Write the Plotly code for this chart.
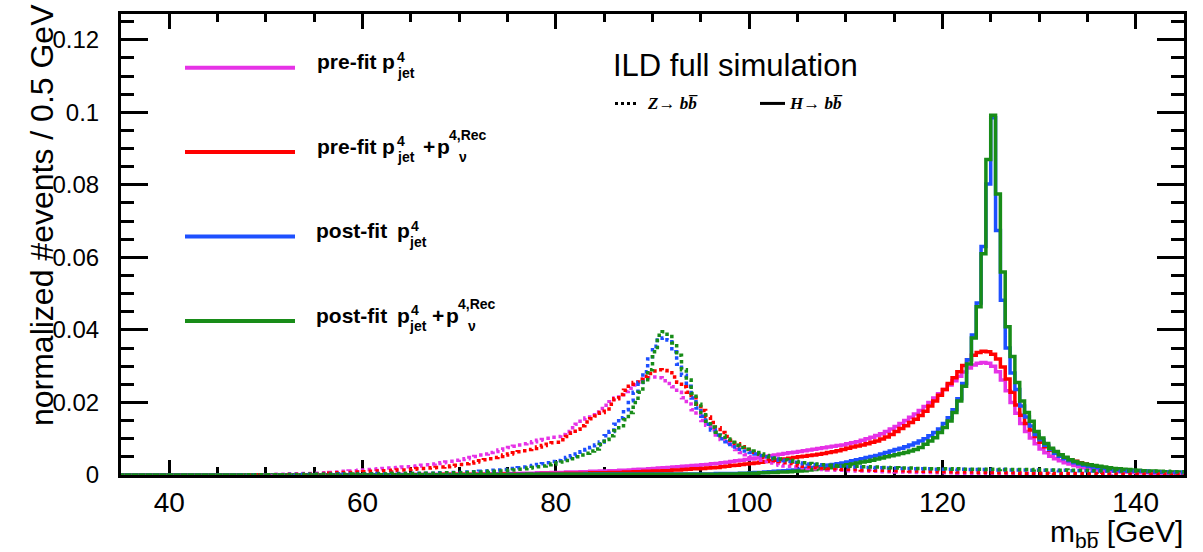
import plotly.graph_objects as go

# Histogram binning: 0.5 GeV bins from 35 to 145 GeV
BIN_LO, BIN_W, N_BINS = 35.0, 0.5, 220
EDGES = [BIN_LO + BIN_W * i for i in range(N_BINS + 1)]
SCALE = 1e-4  # stored contents are in units of 1e-4 (normalized #events / 0.5 GeV)

# ---- H -> bb (solid) ----
H_PRE = [
    0, 0, 0, 0, 0, 0, 0, 0, 0, 0,
    0, 0, 0, 0, 0, 0, 0, 0, 0, 0,
    0, 0, 0, 0, 0, 0, 0, 0, 0, 0,
    0, 0, 0, 0, 0, 0, 1, 0, 0, 1,
    0, 1, 1, 0, 1, 1, 1, 1, 1, 1,
    1, 1, 1, 1, 1, 1, 1, 2, 1, 1,
    2, 1, 2, 2, 2, 2, 2, 2, 2, 2,
    2, 2, 2, 3, 3, 3, 3, 3, 3, 4,
    4, 4, 4, 5, 5, 5, 6, 6, 6, 7,
    7, 7, 8, 8, 8, 9, 9, 10, 10, 11,
    11, 12, 12, 13, 13, 14, 15, 16, 16, 17,
    18, 19, 20, 21, 22, 23, 24, 25, 26, 27,
    28, 29, 31, 32, 34, 35, 37, 39, 41, 43,
    45, 47, 49, 51, 53, 55, 57, 59, 61, 63,
    65, 67, 69, 71, 73, 75, 77, 79, 81, 83,
    86, 89, 92, 96, 100, 104, 109, 114, 120, 127,
    134, 142, 150, 159, 168, 178, 189, 200, 212, 224,
    236, 248, 260, 272, 284, 295, 303, 308, 310, 308,
    300, 285, 262, 232, 200, 170, 142, 120, 102, 86,
    72, 61, 52, 45, 39, 34, 30, 26, 23, 20,
    18, 16, 14, 12, 11, 10, 9, 8, 8, 7,
    7, 6, 6, 5, 5, 5, 4, 4, 4, 4,
]
H_PRE_NU = [
    0, 0, 0, 0, 0, 0, 0, 0, 0, 0,
    0, 0, 0, 0, 0, 0, 0, 0, 0, 0,
    0, 0, 0, 0, 0, 0, 0, 0, 0, 0,
    0, 0, 0, 0, 0, 0, 0, 0, 0, 0,
    0, 0, 0, 0, 0, 1, 0, 0, 1, 0,
    1, 0, 1, 1, 1, 1, 1, 1, 1, 1,
    1, 1, 1, 1, 1, 1, 2, 1, 2, 2,
    2, 2, 2, 2, 2, 2, 2, 2, 2, 3,
    3, 3, 3, 3, 3, 3, 3, 4, 4, 4,
    4, 4, 5, 5, 5, 5, 5, 6, 6, 6,
    6, 7, 7, 7, 8, 8, 9, 9, 10, 10,
    11, 11, 12, 12, 14, 14, 15, 16, 17, 17,
    18, 19, 20, 21, 23, 24, 26, 27, 29, 30,
    32, 33, 35, 37, 39, 41, 43, 44, 46, 48,
    50, 52, 54, 55, 57, 59, 62, 64, 67, 70,
    74, 77, 80, 83, 86, 90, 94, 99, 105, 112,
    120, 128, 136, 145, 154, 164, 176, 190, 204, 220,
    236, 252, 268, 285, 302, 318, 330, 338, 341, 340,
    333, 320, 298, 265, 228, 193, 165, 142, 124, 106,
    90, 78, 68, 60, 53, 47, 42, 38, 34, 30,
    27, 24, 22, 20, 18, 16, 15, 13, 12, 11,
    10, 10, 9, 9, 8, 8, 7, 7, 6, 6,
]
H_POST = [
    0, 0, 0, 0, 0, 0, 0, 0, 0, 0,
    0, 0, 0, 0, 0, 0, 0, 0, 0, 0,
    0, 0, 0, 0, 0, 0, 0, 0, 0, 0,
    0, 0, 0, 0, 0, 0, 0, 0, 0, 0,
    0, 0, 0, 0, 0, 0, 0, 0, 0, 0,
    0, 0, 1, 0, 0, 1, 0, 1, 0, 1,
    1, 0, 1, 1, 1, 1, 1, 1, 1, 1,
    1, 1, 1, 1, 1, 1, 1, 2, 1, 1,
    2, 1, 2, 2, 2, 2, 2, 2, 2, 2,
    2, 2, 2, 2, 2, 2, 3, 2, 3, 3,
    3, 3, 3, 3, 3, 3, 3, 3, 3, 3,
    3, 3, 3, 3, 3, 3, 3, 3, 3, 3,
    3, 3, 3, 4, 4, 4, 4, 4, 5, 5,
    6, 7, 7, 8, 9, 10, 11, 12, 13, 14,
    16, 18, 19, 21, 23, 25, 27, 29, 31, 33,
    36, 39, 42, 45, 48, 51, 54, 58, 62, 66,
    70, 74, 78, 83, 88, 94, 100, 108, 117, 127,
    142, 158, 180, 210, 252, 318, 386, 474, 630, 802,
    985, 674, 482, 350, 281, 236, 190, 160, 135, 112,
    97, 82, 70, 60, 52, 45, 39, 34, 30, 27,
    24, 22, 20, 18, 17, 15, 14, 13, 12, 11,
    11, 10, 9, 9, 8, 8, 7, 7, 7, 6,
]
H_POST_NU = [
    0, 0, 0, 0, 0, 0, 0, 0, 0, 0,
    0, 0, 0, 0, 0, 0, 0, 0, 0, 0,
    0, 0, 0, 0, 0, 0, 0, 0, 0, 0,
    0, 0, 0, 0, 0, 0, 0, 0, 0, 0,
    0, 0, 0, 0, 0, 0, 0, 0, 0, 0,
    0, 0, 0, 1, 0, 0, 1, 0, 0, 1,
    0, 1, 1, 0, 1, 1, 1, 1, 1, 1,
    1, 1, 1, 1, 1, 1, 1, 1, 1, 1,
    1, 1, 1, 1, 2, 1, 2, 2, 2, 2,
    2, 2, 2, 2, 2, 2, 2, 2, 2, 2,
    2, 2, 2, 2, 2, 2, 2, 2, 2, 2,
    2, 2, 2, 2, 2, 2, 2, 2, 2, 2,
    2, 2, 2, 2, 3, 3, 3, 3, 4, 4,
    5, 5, 6, 6, 7, 7, 8, 8, 9, 10,
    11, 12, 14, 15, 17, 18, 20, 22, 24, 26,
    28, 30, 33, 36, 38, 41, 44, 47, 50, 53,
    56, 59, 62, 66, 70, 76, 85, 94, 103, 117,
    131, 149, 172, 204, 245, 306, 378, 464, 610, 870,
    992, 775, 560, 409, 327, 255, 204, 172, 148, 120,
    102, 87, 74, 65, 56, 49, 42, 37, 33, 30,
    28, 26, 24, 22, 20, 18, 17, 16, 15, 14,
    13, 12, 11, 11, 10, 9, 9, 8, 8, 7,
]

# ---- Z -> bb (dotted) ----
Z_PRE = [
    0, 0, 0, 0, 0, 0, 0, 0, 0, 0,
    0, 0, 0, 0, 0, 0, 0, 0, 0, 0,
    0, 0, 0, 0, 0, 0, 1, 1, 1, 1,
    1, 2, 2, 2, 3, 3, 3, 4, 4, 4,
    5, 5, 6, 7, 8, 9, 10, 11, 12, 13,
    14, 15, 16, 17, 18, 19, 20, 21, 22, 23,
    24, 25, 27, 28, 30, 32, 34, 36, 38, 41,
    43, 45, 48, 51, 55, 58, 62, 65, 69, 72,
    76, 79, 83, 86, 89, 92, 96, 98, 101, 104,
    106, 112, 120, 130, 140, 148, 157, 165, 174, 183,
    192, 202, 212, 221, 230, 239, 248, 256, 264, 268,
    270, 268, 260, 252, 243, 228, 213, 196, 180, 165,
    150, 137, 125, 110, 98, 88, 80, 70, 62, 56,
    50, 45, 41, 37, 33, 30, 27, 25, 24, 22,
    21, 20, 18, 17, 16, 15, 14, 14, 13, 13,
    12, 12, 11, 11, 11, 10, 10, 9, 9, 9,
    8, 8, 8, 8, 7, 7, 7, 7, 6, 6,
    6, 6, 6, 5, 5, 5, 5, 5, 5, 4,
    4, 4, 4, 4, 4, 4, 4, 4, 4, 3,
    3, 4, 3, 3, 3, 3, 3, 3, 3, 3,
    3, 3, 3, 3, 2, 3, 2, 2, 2, 2,
    2, 2, 2, 2, 2, 2, 2, 2, 2, 2,
]
Z_PRE_NU = [
    0, 0, 0, 0, 0, 0, 0, 0, 0, 0,
    0, 0, 0, 0, 0, 0, 0, 0, 0, 0,
    0, 0, 0, 0, 0, 0, 0, 1, 0, 1,
    1, 1, 1, 1, 2, 2, 2, 2, 3, 3,
    3, 4, 4, 5, 6, 6, 7, 7, 8, 8,
    9, 10, 10, 11, 12, 12, 13, 14, 14, 15,
    16, 17, 18, 19, 20, 21, 22, 23, 25, 27,
    29, 31, 33, 36, 39, 42, 45, 48, 51, 55,
    58, 61, 64, 67, 70, 73, 77, 81, 85, 89,
    90, 97, 106, 116, 126, 136, 146, 155, 163, 172,
    182, 195, 210, 222, 234, 245, 255, 264, 272, 280,
    287, 290, 288, 282, 270, 256, 243, 228, 213, 195,
    178, 160, 145, 130, 117, 106, 96, 86, 78, 70,
    63, 57, 52, 48, 44, 40, 37, 34, 32, 29,
    26, 24, 23, 21, 20, 19, 18, 17, 17, 16,
    16, 15, 15, 14, 14, 14, 13, 13, 13, 12,
    12, 12, 12, 11, 11, 11, 10, 10, 10, 9,
    9, 9, 9, 8, 8, 8, 8, 7, 7, 7,
    7, 6, 6, 6, 6, 6, 5, 5, 5, 5,
    5, 5, 5, 4, 4, 4, 4, 4, 4, 4,
    4, 4, 3, 4, 3, 3, 3, 3, 3, 3,
    3, 3, 3, 3, 3, 3, 2, 3, 2, 2,
]
Z_POST = [
    0, 0, 0, 0, 0, 0, 0, 0, 0, 0,
    0, 0, 0, 0, 0, 0, 0, 0, 0, 0,
    0, 0, 0, 0, 0, 1, 0, 1, 1, 1,
    1, 1, 1, 1, 1, 2, 1, 2, 2, 2,
    2, 2, 2, 2, 3, 2, 3, 3, 3, 3,
    3, 3, 3, 4, 3, 4, 4, 4, 4, 4,
    4, 5, 5, 5, 5, 6, 6, 6, 7, 7,
    7, 8, 9, 9, 10, 11, 12, 13, 14, 15,
    17, 18, 20, 22, 24, 26, 29, 31, 34, 37,
    40, 44, 48, 53, 58, 64, 70, 76, 83, 91,
    108, 120, 140, 158, 180, 205, 228, 255, 285, 320,
    355, 372, 378, 372, 340, 305, 275, 245, 212, 185,
    162, 140, 124, 110, 100, 92, 84, 77, 71, 66,
    62, 58, 54, 50, 47, 44, 41, 39, 37, 35,
    33, 31, 30, 29, 28, 27, 26, 25, 24, 24,
    23, 23, 22, 22, 21, 21, 20, 20, 19, 19,
    19, 18, 18, 18, 17, 17, 17, 17, 16, 16,
    16, 16, 16, 15, 16, 15, 15, 15, 15, 15,
    15, 14, 15, 14, 14, 14, 14, 14, 13, 14,
    13, 13, 13, 13, 12, 13, 12, 12, 12, 12,
    12, 11, 11, 11, 11, 11, 10, 10, 10, 10,
    10, 10, 10, 9, 9, 9, 9, 9, 8, 8,
]
Z_POST_NU = [
    0, 0, 0, 0, 0, 0, 0, 0, 0, 0,
    0, 0, 0, 0, 0, 0, 0, 0, 0, 0,
    0, 0, 0, 0, 0, 0, 1, 0, 1, 1,
    1, 1, 1, 1, 1, 1, 1, 1, 2, 1,
    2, 2, 2, 2, 2, 2, 2, 3, 2, 3,
    3, 3, 3, 3, 3, 3, 4, 3, 4, 4,
    4, 4, 4, 5, 5, 5, 5, 6, 6, 6,
    6, 7, 7, 8, 8, 9, 10, 10, 11, 12,
    13, 14, 16, 17, 19, 21, 23, 25, 28, 30,
    33, 36, 40, 45, 50, 55, 60, 66, 72, 84,
    98, 108, 122, 136, 152, 172, 200, 228, 256, 290,
    340, 385, 395, 388, 364, 330, 290, 262, 225, 195,
    172, 148, 132, 118, 108, 99, 90, 82, 76, 71,
    66, 62, 58, 54, 50, 47, 44, 42, 40, 38,
    36, 34, 32, 30, 29, 28, 27, 26, 25, 25,
    24, 24, 24, 23, 23, 22, 22, 21, 21, 20,
    20, 19, 19, 19, 18, 18, 18, 17, 17, 17,
    17, 17, 16, 17, 16, 16, 16, 16, 16, 15,
    16, 15, 16, 15, 15, 15, 15, 15, 14, 15,
    14, 14, 14, 14, 13, 14, 13, 13, 13, 13,
    13, 12, 12, 12, 12, 12, 11, 11, 11, 11,
    11, 11, 10, 10, 10, 10, 10, 9, 9, 9,
]

MAGENTA, RED, BLUE, GREEN = "#E632E6", "#FF0000", "#1E50FF", "#188C18"
SANS = "Liberation Sans, Arial, sans-serif"
SERIF = "Liberation Serif, Times New Roman, serif"

# Frame geometry in page pixels
PLOT_L, PLOT_R, PLOT_T, PLOT_B = 121, 1184, 11, 475
W, H = 1203, 552


def to_paper(xp, yp):
    return (xp - PLOT_L) / (PLOT_R - PLOT_L), (PLOT_B - yp) / (PLOT_B - PLOT_T)


def step_trace(vals, color, dash, width):
    ys = [v * SCALE for v in vals]
    return go.Scatter(
        x=EDGES, y=ys + [ys[-1]], mode="lines", line_shape="hv",
        line=dict(color=color, width=width, dash=dash),
        hoverinfo="skip", showlegend=False,
    )


fig = go.Figure()
for vals, col in [(H_PRE, MAGENTA), (H_PRE_NU, RED), (H_POST, BLUE), (H_POST_NU, GREEN)]:
    fig.add_trace(step_trace(vals, col, "solid", 3.5))
for vals, col in [(Z_PRE, MAGENTA), (Z_PRE_NU, RED), (Z_POST, BLUE), (Z_POST_NU, GREEN)]:
    fig.add_trace(step_trace(vals, col, "dot", 3.5))

annotations = []
shapes = []


def text(xp, yp, s, size, family=SANS, bold=False, italic=False, xanchor="left",
         yanchor="middle", angle=0):
    if italic:
        s = f"<i>{s}</i>"
    if bold:
        s = f"<b>{s}</b>"
    x, y = to_paper(xp, yp)
    annotations.append(dict(
        x=x, y=y, xref="paper", yref="paper", text=s, showarrow=False,
        xanchor=xanchor, yanchor=yanchor, textangle=angle,
        font=dict(family=family, size=size, color="black"),
    ))


def hline(x0, x1, yp, color, width, dash="solid"):
    a0, b0 = to_paper(x0, yp)
    a1, _ = to_paper(x1, yp)
    shapes.append(dict(type="line", xref="paper", yref="paper", x0=a0, x1=a1,
                       y0=b0, y1=b0, line=dict(color=color, width=width, dash=dash)))


# Legend block: colour, line y, label word, and x positions of the
# word / p / superscript 4 / subscript jet / "+" / p / "4,Rec" / nu pieces
LEG = [
    (MAGENTA, 65, "pre-fit", (315, 380, 395, 395, None, None, None, None)),
    (RED, 150, "pre-fit", (315, 380, 395, 395, 421, 435, 447, 457)),
    (BLUE, 235, "post-fit", (314, 395, 409, 407, None, None, None, None)),
    (GREEN, 320, "post-fit", (314, 395, 409, 407, 430, 444, 456, 466)),
]
for col, ly, word, (xw, xp1, x4, xjet, xplus, xp2, xrec, xnu) in LEG:
    hline(185, 295, ly, col, 4)
    base = ly - 6
    text(xw, base, word, 21, bold=True)
    text(xp1, base, "p", 21, bold=True)
    text(x4, base - 5, "4", 14, bold=True)
    text(xjet, base + 11, "jet", 14, bold=True)
    if xplus is not None:
        text(xplus, base, "+", 21, bold=True)
        text(xp2, base, "p", 21, bold=True)
        text(xrec, base - 11, "4,Rec", 14, bold=True)
        text(xnu, base + 11, "\u03bd", 14, bold=True)

# Title block
text(735, 63, "ILD full simulation", 31, xanchor="center")
hline(615, 638, 101, "black", 3, "dot")
text(645, 101, "Z\u2192 bb\u0305", 17, family=SERIF, bold=True, italic=True)
hline(760, 785, 101, "black", 3)
text(787, 101, "H\u2192 bb\u0305", 17, family=SERIF, bold=True, italic=True)

# Axis titles
text(1185, 534, "m<sub>bb\u0305</sub> [GeV]", 30, xanchor="right")
text(42, -1, "normalized #events / 0.5 GeV", 32, xanchor="center", yanchor="top", angle=-90)

fig.update_layout(
    width=W, height=H, autosize=False,
    margin=dict(l=PLOT_L, r=W - PLOT_R, t=PLOT_T, b=H - PLOT_B, pad=0),
    paper_bgcolor="white", plot_bgcolor="white",
    annotations=annotations, shapes=shapes,
    xaxis=dict(
        range=[35, 145], dtick=20, tick0=0, showgrid=False, zeroline=False,
        showline=True, linecolor="black", linewidth=3, mirror="allticks",
        ticks="inside", ticklen=15, tickwidth=3, tickcolor="black",
        minor=dict(dtick=5, ticks="inside", ticklen=8, tickwidth=3, tickcolor="black"),
        tickfont=dict(family=SANS, size=28, color="black"),
        layer="below traces",
    ),
    yaxis=dict(
        range=[0, 0.1271], dtick=0.02, tick0=0, showgrid=False, zeroline=False,
        showline=True, linecolor="black", linewidth=3, mirror="allticks",
        ticks="inside", ticklen=27, tickwidth=3, tickcolor="black",
        minor=dict(dtick=0.005, ticks="inside", ticklen=13, tickwidth=3, tickcolor="black"),
        tickfont=dict(family=SANS, size=24, color="black"),
        ticklabelstandoff=14,
        layer="below traces",
    ),
)

fig.write_html("out.html")
